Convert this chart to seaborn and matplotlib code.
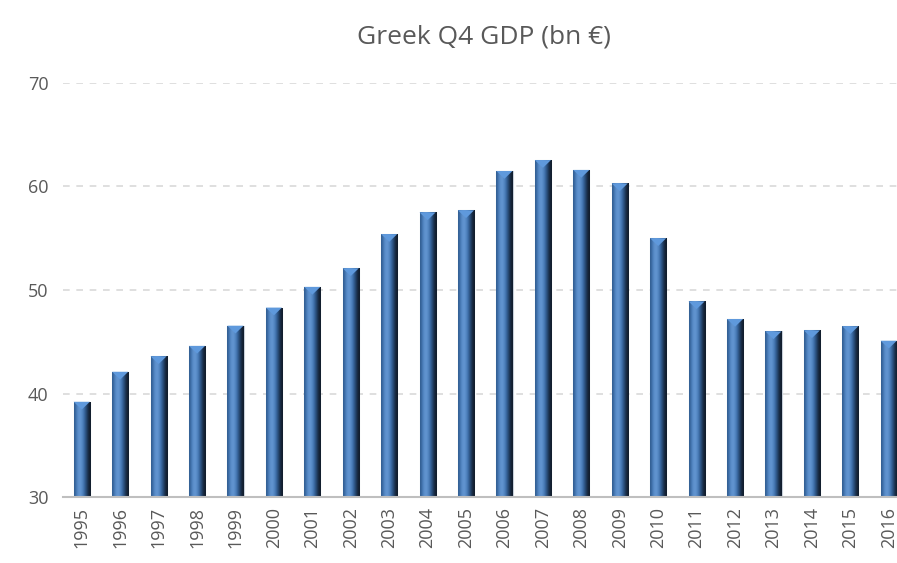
import numpy as np
import pandas as pd
import matplotlib
matplotlib.use("Agg")
import matplotlib.pyplot as plt
import seaborn as sns

# Greek Q4 GDP, bn EUR
years = [str(y) for y in range(1995, 2017)]
gdp = [39.2, 42.1, 43.6, 44.6, 46.55, 48.3, 50.3, 52.1, 55.4, 57.5, 57.7,
       61.5, 62.55, 61.6, 60.3, 55.0, 48.9, 47.2, 46.0, 46.1, 46.5, 45.1]
yticks = [30, 40, 50, 60, 70]
ymin, ymax = 30, 70

sns.set_theme(style="white")
plt.rcParams['font.family'] = ['Open Sans', 'DejaVu Sans']

df = pd.DataFrame({"year": years, "gdp": gdp})

fig = plt.figure(figsize=(8.97, 5.63), dpi=100)
ax = fig.add_axes([0.0697, 0.1172, 0.9425, 0.7354])

sns.barplot(data=df, x="year", y="gdp", color="#4a7ebb", width=0.42,
            edgecolor="#c8d0da", linewidth=0.8, ax=ax, zorder=3)

# horizontal shading on each bar: light centre, dark right edge
grad = np.array([[0.45, 0.7, 0.92, 1.0, 0.9, 0.7, 0.45, 0.25, 0.1, 0.02]])
cmap = matplotlib.colors.LinearSegmentedColormap.from_list(
    "bar", ["#101a27", "#2a5282", "#4477b3", "#6396d2"])
for p in list(ax.patches):
    x0, w, top = p.get_x(), p.get_width(), p.get_y() + p.get_height()
    im = ax.imshow(grad, cmap=cmap, vmin=0, vmax=1, aspect="auto",
                   extent=[x0, x0 + w, ymin, top], zorder=4,
                   interpolation="bicubic")
    im.set_clip_path(p)
    # bevelled top
    tri = plt.Polygon([[x0, top], [x0 + w, top], [x0 + w / 2, top - 0.75]],
                      closed=True, facecolor="#5f99dc", edgecolor="none", zorder=5)
    ax.add_patch(tri)
ax.set_ylim(ymin, ymax)
ax.set_xlim(-0.5, len(years) - 0.5)

ax.set_yticks(yticks)
ax.yaxis.grid(True, linestyle=(0, (4, 4)), color="#d9d9d9", linewidth=1.2, zorder=0)
ax.set_axisbelow(True)
for s in ["top", "right", "left"]:
    ax.spines[s].set_visible(False)
ax.spines["bottom"].set_color("#bfbfbf")
ax.spines["bottom"].set_linewidth(1.5)
ax.spines["bottom"].set_zorder(6)

ax.tick_params(axis="both", length=0, labelsize=13, labelcolor="#595959")
ax.tick_params(axis="y", pad=10)
ax.tick_params(axis="x", pad=7)
plt.setp(ax.get_xticklabels(), rotation=90)
ax.set_xlabel("")
ax.set_ylabel("")

fig.text(0.54, 0.935, "Greek Q4 GDP (bn €)", ha="center", va="center",
         fontsize=19, color="#595959")

fig.savefig("out.png", dpi=100)
